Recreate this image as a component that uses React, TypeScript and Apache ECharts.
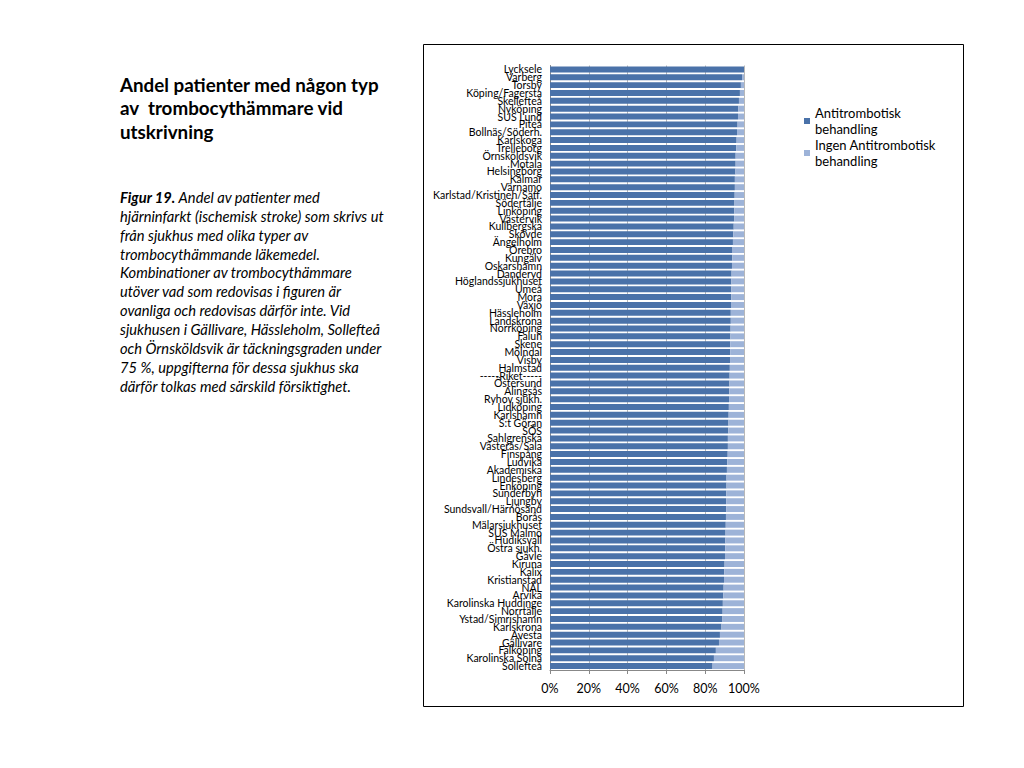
import React, { useEffect, useRef } from "react";
import * as echarts from "echarts";

const categories: string[] = [
  "Lycksele", "Varberg", "Torsby", "Köping/Fagersta", "Skellefteå", "Nyköping", "SUS Lund", "Piteå",
  "Bollnäs/Söderh.", "Karlskoga", "Trelleborg", "Örnsköldsvik", "Motala", "Helsingborg", "Kalmar",
  "Värnamo", "Karlstad/Kristineh/Säff.", "Södertälje", "Linköping", "Västervik", "Kullbergska", "Skövde",
  "Ängelholm", "Örebro", "Kungälv", "Oskarshamn", "Danderyd", "Höglandssjukhuset", "Umeå", "Mora",
  "Växjö", "Hässleholm", "Landskrona", "Norrköping", "Falun", "Skene", "Mölndal", "Visby", "Halmstad",
  "-----Riket-----", "Östersund", "Alingsås", "Ryhov sjukh.", "Lidköping", "Karlshamn", "S:t Göran",
  "SÖS", "Sahlgrenska", "Västerås/Sala", "Finspång", "Ludvika", "Akademiska", "Lindesberg", "Enköping",
  "Sunderbyn", "Ljungby", "Sundsvall/Härnösand", "Borås", "Mälarsjukhuset", "SUS Malmö", "Hudiksvall",
  "Östra sjukh.", "Gävle", "Kiruna", "Kalix", "Kristianstad", "NÄL", "Arvika", "Karolinska Huddinge",
  "Norrtälje", "Ystad/Simrishamn", "Karlskrona", "Avesta", "Gällivare", "Falköping", "Karolinska Solna",
  "Sollefteå",
];

const antitrombotisk: number[] = [
  100, 99.0, 98.4, 97.9, 97.4, 97.1, 96.9, 96.7, 96.4, 96.2, 96.0, 95.7, 95.7, 95.6, 95.3,
  95.3, 95.2, 95.1, 95.0, 94.9, 94.7, 94.5, 94.3, 94.1, 94.0, 93.8, 93.6, 93.5, 93.5, 93.4,
  93.3, 93.2, 93.2, 93.1, 93.0, 92.9, 92.9, 92.8, 92.7, 92.6, 92.5, 92.4, 92.3, 92.2, 92.1,
  92.0, 91.9, 91.7, 91.7, 91.6, 91.4, 91.2, 91.0, 91.0, 90.9, 90.8, 90.8, 90.7, 90.6, 90.5,
  90.4, 90.3, 90.2, 90.0, 89.8, 89.7, 89.5, 89.3, 89.1, 89.0, 88.9, 88.4, 87.6, 87.1, 85.5,
  84.5, 83.8,
];

const ingenAntitrombotisk: number[] = [
  0, 1.0, 1.6, 2.1, 2.6, 2.9, 3.1, 3.3, 3.6, 3.8, 4.0, 4.3, 4.3, 4.4, 4.7,
  4.7, 4.8, 4.9, 5.0, 5.1, 5.3, 5.5, 5.7, 5.9, 6.0, 6.2, 6.4, 6.5, 6.5, 6.6,
  6.7, 6.8, 6.8, 6.9, 7.0, 7.1, 7.1, 7.2, 7.3, 7.4, 7.5, 7.6, 7.7, 7.8, 7.9,
  8.0, 8.1, 8.3, 8.3, 8.4, 8.6, 8.8, 9.0, 9.0, 9.1, 9.2, 9.2, 9.3, 9.4, 9.5,
  9.6, 9.7, 9.8, 10.0, 10.2, 10.3, 10.5, 10.7, 10.9, 11.0, 11.1, 11.6, 12.4, 12.9, 14.5,
  15.5, 16.2,
];

const seriesNames: string[] = ["Antitrombotisk\nbehandling", "Ingen Antitrombotisk\nbehandling"];

const titleLines: string[] = [
  "Andel patienter med någon typ",
  "av  trombocythämmare vid",
  "utskrivning",
];

const captionLines: string[] = [
  "{b|Figur 19.} Andel av patienter med",
  "hjärninfarkt (ischemisk stroke) som skrivs ut",
  "från sjukhus med olika typer av",
  "trombocythämmande läkemedel.",
  "Kombinationer av trombocythämmare",
  "utöver vad som redovisas i figuren är",
  "ovanliga och redovisas därför inte. Vid",
  "sjukhusen i Gällivare, Hässleholm, Sollefteå",
  "och Örnsköldsvik är täckningsgraden under",
  "75 %, uppgifterna för dessa sjukhus ska",
  "därför tolkas med särskild försiktighet.",
];

const FONT = "Lato, 'Open Sans', sans-serif";

export default function App() {
  const ref = useRef<HTMLDivElement>(null);

  useEffect(() => {
    if (!ref.current) return;
    const chart = echarts.init(ref.current, undefined, { renderer: "svg" });

    const graphics: any[] = [
      {
        type: "rect",
        shape: { x: 423.5, y: 44.5, width: 540, height: 662 },
        style: { fill: "none", stroke: "#000", lineWidth: 1 },
        silent: true,
      },
    ];
    titleLines.forEach((t, i) => {
      graphics.push({
        type: "text",
        x: 120,
        y: 84 + i * 23.5,
        style: {
          text: t,
          font: `bold 18.8px ${FONT}`,
          fill: "#000",
          textVerticalAlign: "middle",
        },
      });
    });
    captionLines.forEach((t, i) => {
      graphics.push({
        type: "text",
        x: 120,
        y: 197 + i * 18.85,
        style: {
          text: t,
          fontFamily: FONT,
          fontStyle: "italic",
          fontSize: 14.7,
          fill: "#000",
          verticalAlign: "middle",
          rich: {
            b: {
              fontFamily: FONT,
              fontStyle: "italic",
              fontWeight: "bold",
              fontSize: 14.7,
              fill: "#000",
            },
          },
        },
      });
    });

    chart.setOption({
      animation: false,
      textStyle: { fontFamily: FONT },
      grid: { left: 550, right: 280, top: 65.5, bottom: 98, containLabel: false },
      legend: {
        orient: "vertical",
        left: 799,
        top: 100,
        itemWidth: 6,
        itemHeight: 6,
        itemGap: 0,
        icon: "rect",
        data: seriesNames,
        textStyle: { fontFamily: FONT, fontSize: 13, color: "#000", lineHeight: 16 },
      },
      xAxis: {
        type: "value",
        min: 0,
        max: 100,
        interval: 20,
        axisLabel: {
          formatter: (v: number) => `${v}%`,
          fontSize: 12.5,
          color: "#000",
          margin: 12,
          fontFamily: FONT,
        },
        axisLine: { show: true, lineStyle: { color: "#888" } },
        axisTick: { show: true, length: 4, lineStyle: { color: "#888" } },
        splitLine: { show: true, lineStyle: { color: "#b8b8b8", width: 1 } },
      },
      yAxis: {
        type: "category",
        inverse: true,
        data: categories,
        axisLabel: {
          interval: 0,
          fontSize: 10.5,
          lineHeight: 7.8,
          color: "#000",
          margin: 8,
          fontFamily: FONT,
        },
        axisLine: { show: true, lineStyle: { color: "#888" } },
        axisTick: { show: false },
        splitLine: { show: false },
      },
      series: [
        {
          name: seriesNames[0],
          type: "bar",
          stack: "total",
          data: antitrombotisk,
          barCategoryGap: "24%",
          itemStyle: { color: "#4A72A9" },
        },
        {
          name: seriesNames[1],
          type: "bar",
          stack: "total",
          data: ingenAntitrombotisk,
          barCategoryGap: "24%",
          itemStyle: { color: "#9DB3D8" },
        },
      ],
      graphic: graphics,
    });

    return () => chart.dispose();
  }, []);

  return (
    <div
      ref={ref}
      style={{ position: "fixed", left: 0, top: 0, width: 1024, height: 768, background: "#fff" }}
    />
  );
}
